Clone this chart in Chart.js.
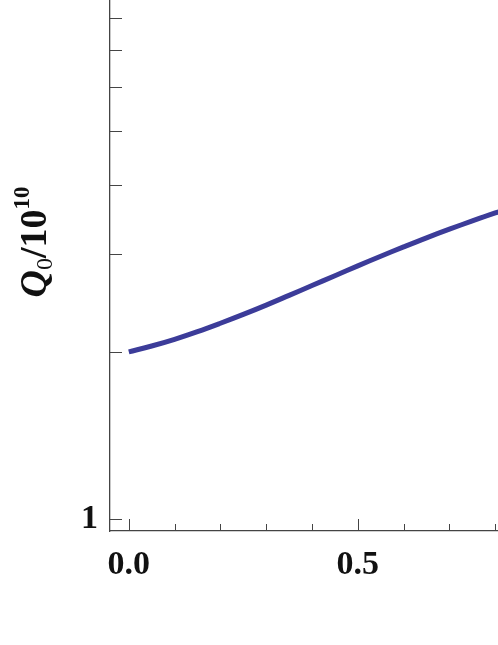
<!DOCTYPE html>
<html>
<head>
<meta charset="utf-8">
<script src="https://cdn.jsdelivr.net/npm/chart.js@4"></script>
<style>
  html, body { margin: 0; padding: 0; background: #fff; }
  #wrap { width: 498px; height: 645px; }
</style>
</head>
<body>
<div id="wrap"><canvas id="q0Chart" width="498" height="645"></canvas></div>
<script>
// --- data ---
const xValues = [0.00, 0.05, 0.10, 0.15, 0.20, 0.25, 0.30, 0.35, 0.40, 0.45, 0.50, 0.55, 0.60, 0.65, 0.70, 0.75, 0.80, 0.85];
const q0Values = [2.000, 2.049, 2.107, 2.175, 2.252, 2.336, 2.428, 2.528, 2.633, 2.743, 2.857, 2.973, 3.091, 3.210, 3.327, 3.443, 3.558, 3.670];
const xTicks = [0.0, 0.1, 0.2, 0.3, 0.4, 0.5, 0.6, 0.7, 0.8];
const xMajor = [0.0, 0.5];
const yTicks = [1, 2, 3, 4, 5, 6, 7, 8, 9];
const yLabelled = [1];

const axisColor = '#444';
const tickFont = { family: '"Liberation Serif", "Times New Roman", serif', size: 34, weight: 'bold' };

// --- inward tick marks (Mathematica style) ---
const innerTicks = {
    id: 'innerTicks',
    afterDatasetsDraw(chart) {
        const ctx = chart.ctx;
        const xs = chart.scales.x, ys = chart.scales.y;
        const area = chart.chartArea;
        ctx.save();
        ctx.strokeStyle = axisColor;
        ctx.lineWidth = 1;
        yTicks.forEach(v => {
            if (v > ys.max) return;
            const py = Math.round(ys.getPixelForValue(v)) + 0.5;
            ctx.beginPath();
            ctx.moveTo(area.left, py);
            ctx.lineTo(area.left + 12, py);
            ctx.stroke();
        });
        xTicks.forEach(v => {
            const px = Math.round(xs.getPixelForValue(v)) + 0.5;
            const len = xMajor.includes(v) ? 12 : 7;
            ctx.beginPath();
            ctx.moveTo(px, area.bottom);
            ctx.lineTo(px, area.bottom - len);
            ctx.stroke();
        });
        ctx.restore();
    }
};

// --- rotated y title: Q0/10^10 ---
const yTitle = {
    id: 'yTitle',
    afterDraw(chart) {
        const ctx = chart.ctx;
        const serif = '"Liberation Serif", "Times New Roman", serif';
        const parts = [
            { t: 'Q', font: 'italic bold 38px ' + serif, dy: 0 },
            { t: '0', font: '24px ' + serif, dy: 6 },
            { t: '/10', font: 'bold 38px ' + serif, dy: 0 },
            { t: '10', font: 'bold 23px ' + serif, dy: -17 }
        ];
        ctx.save();
        let total = 0;
        parts.forEach(p => { ctx.font = p.font; p.w = ctx.measureText(p.t).width; total += p.w; });
        ctx.translate(46, 242);
        ctx.rotate(-Math.PI / 2);
        ctx.fillStyle = '#111';
        ctx.textBaseline = 'alphabetic';
        let x = -total / 2;
        parts.forEach(p => {
            ctx.font = p.font;
            ctx.fillText(p.t, x, p.dy);
            x += p.w;
        });
        ctx.restore();
    }
};

const ctx = document.getElementById('q0Chart').getContext('2d');
new Chart(ctx, {
    type: 'line',
    data: {
        datasets: [{
            data: xValues.map((x, i) => ({ x: x, y: q0Values[i] })),
            borderColor: '#3c3c99',
            borderWidth: 5,
            pointRadius: 0,
            fill: false,
            tension: 0.4
        }]
    },
    options: {
        responsive: false,
        animation: false,
        devicePixelRatio: 1,
        layout: { padding: 0 },
        plugins: { legend: { display: false }, tooltip: { enabled: false } },
        scales: {
            x: {
                type: 'linear',
                min: -0.041,
                max: 0.806,
                afterFit(s) { s.height = 114; s.paddingLeft = 0; s.paddingRight = 0; },
                afterBuildTicks(s) { s.ticks = xTicks.map(v => ({ value: v })); },
                grid: { display: false, drawTicks: false },
                border: { display: true, color: axisColor, width: 1.3 },
                ticks: {
                    autoSkip: false,
                    maxRotation: 0,
                    padding: 14,
                    color: '#111',
                    font: tickFont,
                    callback: v => xMajor.includes(Number(v.toFixed(1))) ? v.toFixed(1) : ''
                }
            },
            y: {
                type: 'logarithmic',
                min: 0.951,
                max: 8.61,
                afterFit(s) { s.width = 110; s.paddingTop = 0; s.paddingBottom = 0; },
                afterBuildTicks(s) { s.ticks = yTicks.filter(v => v <= 8.61).map(v => ({ value: v })); },
                grid: { display: false, drawTicks: false },
                border: { display: true, color: axisColor, width: 1.3 },
                ticks: {
                    autoSkip: false,
                    padding: 12,
                    color: '#111',
                    font: tickFont,
                    callback: v => yLabelled.includes(v) ? String(v) : ''
                }
            }
        }
    },
    plugins: [innerTicks, yTitle]
});
</script>
</body>
</html>
